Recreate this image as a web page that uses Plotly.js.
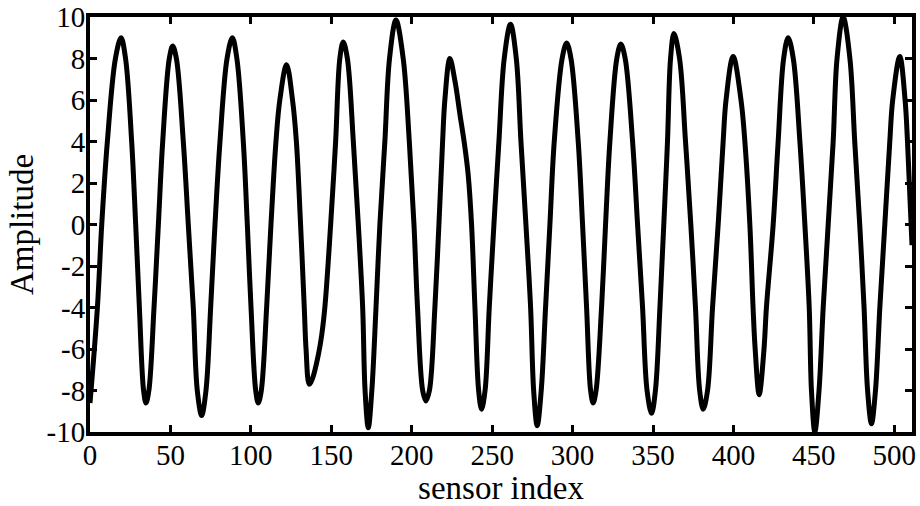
<!DOCTYPE html>
<html>
<head>
<meta charset="utf-8">
<script src="https://cdn.plot.ly/plotly-3.0.1.min.js"></script>
<style>
  html, body { margin: 0; padding: 0; background: #ffffff; }
  #chart { width: 920px; height: 506px; }
</style>
</head>
<body>
<div id="chart"></div>
<script>
// Points: extrema, flank positions near the extrema, at +/-4 and at 0
const sensorIndex = [
  0, 4.6, 7.3, 10.8, 15.8, 19.3, 22.1, 25.9, 28.4, 30.7, 33.3, 34.8, 36.6, 39.8,
  42.5, 45.2, 49.3, 51.4, 53.7, 58.0, 61.1, 64.2, 66.7, 69.4, 72.1, 75.0,
  77.7, 80.8, 85.2, 88.5, 91.3, 95.3, 97.8, 100.1, 103.0, 104.6, 106.5, 109.8,
  112.5, 115.6, 118.0, 122.2, 125.9, 128.3, 130.9, 133.2, 134.3, 136.3,
  138.4, 141.9, 144.0, 146.1, 149.6, 152.7, 155.3, 157.4, 160.0, 163.7,
  166.8, 169.5, 171.0, 173.0, 175.2, 177.8, 180.2, 183.3, 186.2, 190.2, 194.7, 198.5,
  201.4, 203.6, 206.8, 208.8, 211.0, 214.4, 216.9, 219.2, 220.6, 223.7,
  226.9, 230.0, 233.1, 235.1, 237.2, 239.3, 241.6, 243.4, 245.6, 248.2,
  251.1, 254.2, 257.5, 261.4, 265.0, 267.9, 271.0, 273.9, 275.8, 278.0, 280.5, 283.2,
  285.9, 288.6, 293.5, 296.3, 299.0, 303.5, 306.2, 308.7, 311.2, 312.8, 314.6, 318.0,
  320.5, 323.2, 327.5, 330.0, 332.7, 337.3, 340.4, 343.5, 346.3, 349.1, 351.5, 354.3,
  356.7, 359.0, 360.9, 363.0, 366.5, 370.2, 373.5, 376.4, 379.0, 381.2, 383.9, 387.0,
  390.5, 393.6, 395.4, 399.8, 404.7, 407.1, 410.2, 412.2, 413.5, 416.0, 419.0, 420.5,
  424.7, 427.8, 431.2, 434.0, 437.2, 441.3, 444.4, 447.1, 448.5, 450.6, 453.2, 455.8,
  458.9, 462.0, 464.4, 468.2, 472.4, 475.4, 478.5, 481.2, 483.4, 485.8, 488.3, 491.0,
  494.1, 497.2, 499.0, 503.4, 506.7, 508.2, 511
];
const amplitude = [
  -8.6, -4, 0, 4, 8, 9.0, 8, 4, 0, -4, -8, -8.6, -8, -4,
  0, 4, 8, 8.6, 8, 4, 0, -4, -8, -9.2, -8, -4,
  0, 4, 8, 9.0, 8, 4, 0, -4, -8, -8.6, -8, -4,
  0, 4, 6, 7.7, 6, 4, 0, -4, -6, -7.7,
  -7.4, -6.3, -5.35, -3.9, 0, 4, 8, 8.8, 8, 4,
  0, -4, -8, -9.8, -8, -4, 0, 4, 8, 9.85, 8, 4,
  0, -4, -8, -8.5, -8, -4, 0, 4, 6, 8.0,
  6.9, 5.3, 3.7, 2.4, 0, -4, -8, -8.9, -8, -4,
  0, 4, 8, 9.65, 8, 4, 0, -4, -8, -9.7, -8, -4,
  0, 4, 8, 8.75, 8, 4, 0, -4, -8, -8.6, -8, -4,
  0, 4, 8, 8.7, 8, 4, 0, -4, -8, -9.1, -8, -4,
  0, 4, 8, 9.2, 8, 4, 0, -4, -8, -8.9, -8, -4,
  0, 4, 6, 8.1, 6, 4, 0, -4, -6, -8.2, -6, -4,
  0, 4, 8, 9.0, 8, 4, 0, -4, -8, -10, -8, -4,
  0, 4, 8, 10, 8, 4, 0, -4, -8, -9.6, -8, -4,
  0, 4, 6, 8.1, 6, 4, -1.0
];

const xTickVals = [0, 50, 100, 150, 200, 250, 300, 350, 400, 450, 500];
const xTickText = ['0', '50', '100', '150', '200', '250', '300', '350', '400', '450', '500'];
const yTickVals = [-10, -8, -6, -4, -2, 0, 2, 4, 6, 8, 10];
const yTickText = ['-10', '-8', '-6', '-4', '-2', '0', '2', '4', '6', '8', '10'];

const FONT = 'Liberation Serif, Times New Roman, serif';

const trace = {
  x: sensorIndex,
  y: amplitude,
  type: 'scatter',
  mode: 'lines',
  line: { color: '#000000', width: 5, shape: 'spline', smoothing: 1 },
  hoverinfo: 'x+y',
  showlegend: false
};

const axisCommon = {
  showline: true,
  linecolor: '#000000',
  linewidth: 4,
  mirror: 'ticks',
  ticks: 'inside',
  ticklen: 7,
  tickwidth: 3,
  tickcolor: '#000000',
  showgrid: false,
  zeroline: false,
  tickfont: { family: FONT, size: 29, color: '#000000' },
  tickmode: 'array'
};

const layout = {
  width: 920,
  height: 506,
  paper_bgcolor: '#ffffff',
  plot_bgcolor: '#ffffff',
  margin: { l: 90, r: 8, t: 17, b: 74 },
  showlegend: false,
  xaxis: Object.assign({}, axisCommon, {
    range: [0, 511],
    tickvals: xTickVals,
    ticktext: xTickText,
    ticklabelstandoff: -6,
    automargin: false,
    title: { text: 'sensor index', font: { family: FONT, size: 33, color: '#000000' }, standoff: 2 }
  }),
  yaxis: Object.assign({}, axisCommon, {
    range: [-10, 10],
    tickvals: yTickVals,
    ticktext: yTickText,
    ticklabelstandoff: -5,
    automargin: false,
    title: { text: 'Amplitude', font: { family: FONT, size: 33, color: '#000000' }, standoff: 4 }
  }),
  annotations: [{
    text: '(a)',
    xref: 'paper', yref: 'paper',
    x: 0.464, y: 1,
    xanchor: 'center', yanchor: 'bottom',
    yshift: 15,
    showarrow: false,
    font: { family: FONT, size: 29, color: '#000000' }
  }]
};

Plotly.newPlot('chart', [trace], layout, { displayModeBar: false, staticPlot: true });
</script>
</body>
</html>
